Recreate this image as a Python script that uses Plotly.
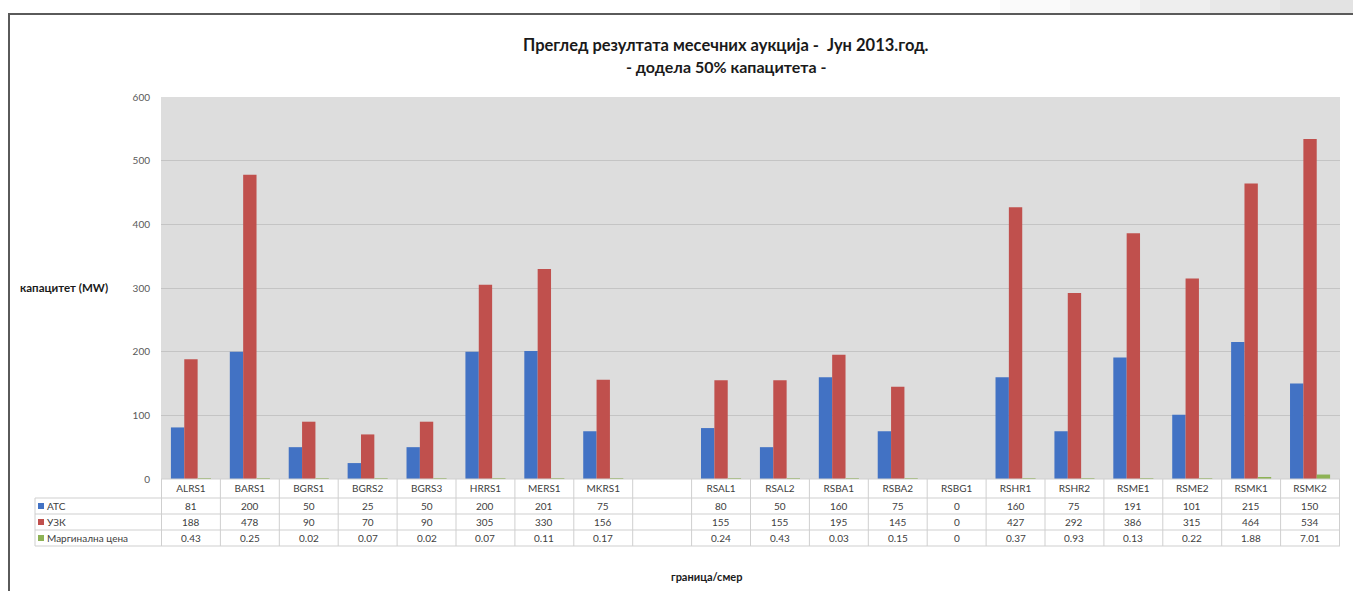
import plotly.graph_objects as go

categories = ["ALRS1", "BARS1", "BGRS1", "BGRS2", "BGRS3", "HRRS1", "MERS1", "MKRS1", " ",
              "RSAL1", "RSAL2", "RSBA1", "RSBA2", "RSBG1", "RSHR1", "RSHR2", "RSME1", "RSME2",
              "RSMK1", "RSMK2"]
atc = [81, 200, 50, 25, 50, 200, 201, 75, None, 80, 50, 160, 75, 0, 160, 75, 191, 101, 215, 150]
uzk = [188, 478, 90, 70, 90, 305, 330, 156, None, 155, 155, 195, 145, 0, 427, 292, 386, 315, 464, 534]
marg = [0.43, 0.25, 0.02, 0.07, 0.02, 0.07, 0.11, 0.17, None, 0.24, 0.43, 0.03, 0.15, 0, 0.37, 0.93,
        0.13, 0.22, 1.88, 7.01]
series_names = ["АТС", "УЗК", "Маргинална цена"]
series_colors = ["#4272C4", "#C0504D", "#8DB255"]
y_ticks = [0, 100, 200, 300, 400, 500, 600]

W, H = 1353, 591
L, R, T, B = 161, 1340, 97, 479  # plot area in pixels
FONT = "Lato"


def px(xp):
    return (xp - L) / (R - L)


def py(yp):
    return (B - yp) / (B - T)


fig = go.Figure()
for name, vals, col in zip(series_names, [atc, uzk, marg], series_colors):
    fig.add_trace(go.Bar(x=categories, y=vals, name=name, marker=dict(color=col, line=dict(width=0))))

shapes = []
annotations = []

# data table
row_lines = [479, 498, 514, 530, 546]
row_centers = [506, 522, 538]
grid_col = "#CFCFCF"
for i, yl in enumerate(row_lines):
    x0 = px(161) if i == 0 else px(35)
    shapes.append(dict(type="line", xref="paper", yref="paper", x0=x0, x1=1, y0=py(yl), y1=py(yl),
                       line=dict(color=grid_col, width=1)))
for i in range(len(categories) + 1):
    shapes.append(dict(type="line", xref="x", yref="paper", x0=i - 0.5, x1=i - 0.5,
                       y0=py(479), y1=py(546), line=dict(color=grid_col, width=1)))
shapes.append(dict(type="line", xref="paper", yref="paper", x0=px(35), x1=px(35),
                   y0=py(498), y1=py(546), line=dict(color=grid_col, width=1)))

for name, col, yc in zip(series_names, series_colors, row_centers):
    shapes.append(dict(type="rect", xref="paper", yref="paper", x0=px(38), x1=px(44),
                       y0=py(yc + 3), y1=py(yc - 3), fillcolor=col, line=dict(width=0)))
    annotations.append(dict(text=name, xref="paper", yref="paper", x=px(45), y=py(yc),
                            xanchor="left", yanchor="middle", showarrow=False,
                            font=dict(family=FONT, size=10, color="#404040")))

for vals, yc in zip([atc, uzk, marg], row_centers):
    for c, v in zip(categories, vals):
        if v is None:
            continue
        annotations.append(dict(text=f"{v:g}", xref="x", yref="paper", x=c, y=py(yc),
                                xanchor="center", yanchor="middle", showarrow=False,
                                font=dict(family=FONT, size=10, color="#404040")))

# titles
annotations.append(dict(text="<b>Преглед резултата месечних аукција -  Јун 2013.год.</b>",
                        xref="paper", yref="paper", x=px(726), y=py(45), xanchor="center",
                        yanchor="middle", showarrow=False,
                        font=dict(family=FONT, size=16.5, color="#1A1A1A")))
annotations.append(dict(text="<b>- додела 50% капацитета -</b>",
                        xref="paper", yref="paper", x=px(726), y=py(66), xanchor="center",
                        yanchor="middle", showarrow=False,
                        font=dict(family=FONT, size=16, color="#1A1A1A")))
annotations.append(dict(text="<b>капацитет (MW)</b>", xref="paper", yref="paper", x=px(64), y=py(287),
                        xanchor="center", yanchor="middle", showarrow=False,
                        font=dict(family=FONT, size=11.5, color="#1A1A1A")))
annotations.append(dict(text="<b>граница/смер</b>", xref="paper", yref="paper", x=px(706), y=py(576),
                        xanchor="center", yanchor="middle", showarrow=False,
                        font=dict(family=FONT, size=11, color="#1A1A1A")))

# page frame lines and faint header gradient
grad = ["#FAFAFA", "#F4F4F4", "#EEEEEE", "#E8E8E8", "#E3E3E3"]
for k, gc in enumerate(grad):
    shapes.append(dict(type="rect", xref="paper", yref="paper", x0=px(1000 + k * 70), x1=px(1353),
                       y0=py(0), y1=py(13), fillcolor=gc, line=dict(width=0), layer="below"))
shapes.append(dict(type="line", xref="paper", yref="paper", x0=px(8), x1=px(1353), y0=py(14), y1=py(14),
                   line=dict(color="#5A5A5A", width=2)))
shapes.append(dict(type="line", xref="paper", yref="paper", x0=px(9), x1=px(9), y0=py(14), y1=py(591),
                   line=dict(color="#5A5A5A", width=2)))

fig.update_layout(
    width=W, height=H,
    margin=dict(l=L, r=W - R, t=T, b=H - B, pad=0),
    paper_bgcolor="white",
    plot_bgcolor="#DDDDDD",
    barmode="group",
    bargap=0.32,
    bargroupgap=0,
    showlegend=False,
    font=dict(family=FONT, size=10, color="#595959"),
    shapes=shapes,
    annotations=annotations,
    xaxis=dict(type="category", categoryorder="array", categoryarray=categories,
               showgrid=False, showline=False, ticks="", tickfont=dict(size=10, color="#404040"),
               ticklabelstandoff=2, zeroline=False),
    yaxis=dict(range=[0, 600], tickvals=y_ticks, showgrid=True, gridcolor="#C4C4C4", gridwidth=1,
               zeroline=False, showline=False, ticks="", ticklabelstandoff=10,
               tickfont=dict(size=10, color="#595959")),
)

fig.write_html("out.html")
